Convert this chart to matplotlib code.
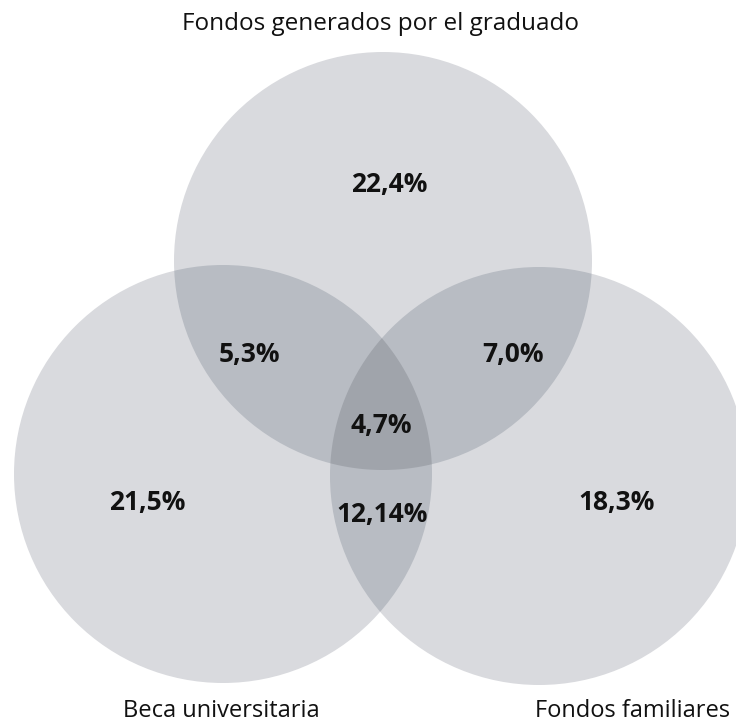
import matplotlib.pyplot as plt
import matplotlib.patches as mpatches
import numpy as np

# sets and region values
set_names = ['Fondos generados por el graduado', 'Beca universitaria', 'Fondos familiares']
only_values = ['22,4%', '21,5%', '18,3%']
pair_values = ['5,3%', '7,0%', '12,14%']   # top&left, top&right, left&right
triple_value = '4,7%'

plt.rcParams['font.family'] = ['Open Sans', 'DejaVu Sans']

# layout (pixel coords)
centers = [(383, 261), (223, 474), (539, 476)]
r = 209
c1 = '#d9dade'
c2 = '#b8bcc3'
c3 = '#a0a4ab'

fig = plt.figure(figsize=(7.36, 7.25), dpi=100)
ax = fig.add_axes([0, 0, 1, 1])
ax.set_xlim(0, 736)
ax.set_ylim(725, 0)
ax.set_aspect('equal')
ax.axis('off')

circles = []
for c in centers:
    p = mpatches.Circle(c, r, facecolor=c1, edgecolor='none', zorder=1)
    ax.add_patch(p)
    circles.append(p)

# pairwise overlaps
pairs = [(0, 1), (0, 2), (1, 2)]
for i, j in pairs:
    p = mpatches.Circle(centers[i], r, facecolor=c2, edgecolor='none', zorder=2)
    ax.add_patch(p)
    p.set_clip_path(circles[j])

# triple overlap: polygon from arc points inside the other two circles
t = np.linspace(0, 2 * np.pi, 2000)
pts = []
for k, (cx, cy) in enumerate(centers):
    xs = cx + r * np.cos(t)
    ys = cy + r * np.sin(t)
    ok = np.ones_like(xs, dtype=bool)
    for m, (ox, oy) in enumerate(centers):
        if m != k:
            ok &= (xs - ox) ** 2 + (ys - oy) ** 2 <= r ** 2
    pts.append(np.column_stack([xs[ok], ys[ok]]))
pts = np.vstack(pts)
mx, my = pts.mean(axis=0)
order = np.argsort(np.arctan2(pts[:, 1] - my, pts[:, 0] - mx))
ax.add_patch(mpatches.Polygon(pts[order], closed=True, facecolor=c3, edgecolor='none', zorder=3))

# labels (baseline positions)
lab = dict(ha='center', va='baseline', fontsize=19, fontweight='bold', color='#111111', zorder=5)
only_pos = [(389, 192), (147, 510), (617, 510)]
pair_pos = [(249, 362), (513, 362), (382, 522)]
for s, (x, y) in zip(only_values, only_pos):
    ax.text(x, y, s, **lab)
for s, (x, y) in zip(pair_values, pair_pos):
    ax.text(x, y, s, **lab)
ax.text(381, 433, triple_value, **lab)

name_pos = [(380, 30), (221, 717), (633, 717)]
name_size = [17.5, 17, 17]
for s, (x, y), fs in zip(set_names, name_pos, name_size):
    ax.text(x, y, s, ha='center', va='baseline', fontsize=fs, color='#111111')

fig.savefig('out.png', dpi=100)
